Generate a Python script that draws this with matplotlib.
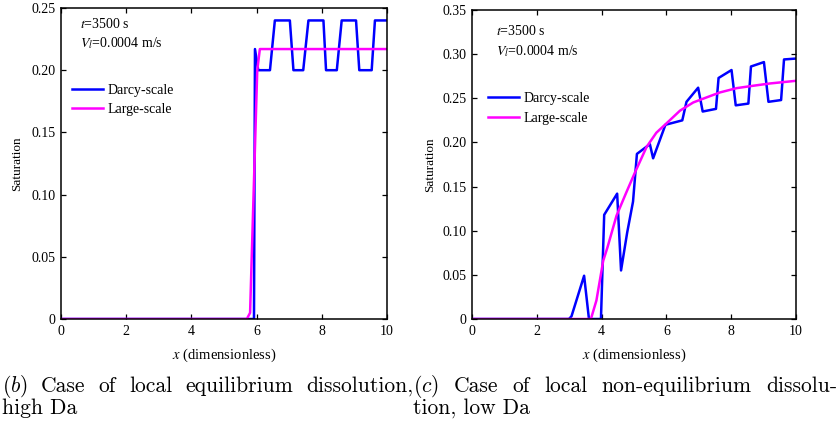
import numpy as np
import matplotlib
matplotlib.use('Agg')
import matplotlib.pyplot as plt

plt.rcParams['font.family'] = ['Liberation Serif', 'DejaVu Serif']
plt.rcParams['mathtext.fontset'] = 'stix'

# Data
xticks = [0, 2, 4, 6, 8, 10]
xtick_labels = ['0', '2', '4', '6', '8', '10']

# (b) local equilibrium, high Da
b_yticks = [0, 0.05, 0.10, 0.15, 0.20, 0.25]
b_ytick_labels = ['0', '0.05', '0.10', '0.15', '0.20', '0.25']
b_darcy_x = [0, 5.92, 5.95, 6.05, 6.41, 6.56, 7.02, 7.13, 7.43, 7.59, 8.05,
             8.13, 8.46, 8.61, 9.05, 9.15, 9.53, 9.63, 10]
b_darcy_y = [0, 0, 0.217, 0.20, 0.20, 0.24, 0.24, 0.20, 0.20, 0.24, 0.24,
             0.20, 0.20, 0.24, 0.24, 0.20, 0.20, 0.24, 0.24]
b_large_x = [0, 5.70, 5.80, 6.02, 6.10, 10]
b_large_y = [0, 0, 0.005, 0.20, 0.217, 0.217]

# (c) local non-equilibrium, low Da
c_yticks = [0, 0.05, 0.10, 0.15, 0.20, 0.25, 0.30, 0.35]
c_ytick_labels = ['0', '0.05', '0.10', '0.15', '0.20', '0.25', '0.30', '0.35']
c_darcy_x = [0, 2.99, 3.07, 3.46, 3.61, 3.98, 4.08, 4.48, 4.60, 4.79, 4.97,
             5.09, 5.49, 5.59, 5.97, 6.49, 6.62, 6.98, 7.12, 7.53, 7.61, 8.01,
             8.14, 8.53, 8.61, 9.01, 9.15, 9.54, 9.63, 10]
c_darcy_y = [0, 0, 0.003, 0.049, 0, 0, 0.118, 0.142, 0.055, 0.098, 0.133,
             0.187, 0.198, 0.182, 0.220, 0.225, 0.246, 0.262, 0.235, 0.238,
             0.273, 0.282, 0.242, 0.244, 0.286, 0.291, 0.246, 0.248, 0.294, 0.295]
c_large_x = [0, 3.67, 3.84, 4.05, 4.18, 4.46, 4.77, 5.03, 5.39, 5.69, 6.0,
             6.42, 6.83, 7.24, 7.65, 8.17, 8.68, 9.20, 10]
c_large_y = [0, 0, 0.021, 0.066, 0.081, 0.117, 0.144, 0.166, 0.195, 0.211,
             0.2215, 0.236, 0.2453, 0.251, 0.2566, 0.2615, 0.2642, 0.2668, 0.2698]

fig = plt.figure(figsize=(8.4, 4.25), dpi=100)
ax_b = fig.add_axes([61/840, 1-319/425, 326/840, 311/425])
ax_c = fig.add_axes([472/840, 1-319/425, 324/840, 309/425])


def style(ax, xd, yd, xl, yl, yticks, ylabels, ylim, ylab_x, leg_anchor, txt_pos):
    ax.plot(xd, yd, color='#0000ff', lw=1.8, label='Darcy-scale')
    ax.plot(xl, yl, color='#ff00ff', lw=1.8, label='Large-scale')
    ax.set_xlim(0, 10)
    ax.set_ylim(*ylim)
    ax.set_xticks(xticks, xtick_labels)
    ax.set_yticks(yticks, ylabels)
    ax.tick_params(direction='in', top=True, right=True, length=3.5,
                   width=0.9, labelsize=10, pad=4)
    for s in ax.spines.values():
        s.set_linewidth(1.1)
    ax.set_xlabel('$x$ (dimensionless)', fontsize=10.5)
    ax.xaxis.set_label_coords(0.5, -0.09)
    ax.set_ylabel('Saturation', fontsize=9.5)
    ax.yaxis.set_label_coords(ylab_x, 0.5)
    ax.legend(loc='upper left', bbox_to_anchor=leg_anchor, frameon=False,
              fontsize=10, handlelength=2.2, handletextpad=0.35,
              borderpad=0, borderaxespad=0, labelspacing=0.47)
    ax.text(txt_pos[0], txt_pos[1], '$t$=3500 s', transform=ax.transAxes,
            fontsize=10, va='center')
    ax.text(txt_pos[0], txt_pos[2], '$V_l$=0.0004 m/s', transform=ax.transAxes,
            fontsize=10, va='center')


style(ax_b, b_darcy_x, b_darcy_y, b_large_x, b_large_y, b_yticks,
      b_ytick_labels, (0, 0.25), -0.117, (0.035, 0.757), (0.058, 0.949, 0.887))
style(ax_c, c_darcy_x, c_darcy_y, c_large_x, c_large_y, c_yticks,
      c_ytick_labels, (0, 0.35), -0.111, (0.05, 0.734), (0.074, 0.932, 0.867))

# captions, first lines justified between pixel limits
renderer = fig.canvas.get_renderer()
cap_kw = dict(fontsize=15.5, family='cmr10', math_fontfamily='cm', va='baseline')


def justified(words, x0, x1, y):
    texts = [fig.text(0, y, w, **cap_kw) for w in words]
    widths = [t.get_window_extent(renderer).width for t in texts]
    gap = (x1 - x0 - sum(widths)) / (len(words) - 1)
    x = x0
    for t, w in zip(texts, widths):
        t.set_x(x / 840)
        x += w + gap


line1_y = 1 - 392/425
line2_y = 1 - 414/425
justified(['$(b)$', 'Case', 'of', 'local', 'equilibrium', 'dissolution,'], 2, 413, line1_y)
fig.text(2/840, line2_y, 'high Da', **cap_kw)
justified(['$(c)$', 'Case', 'of', 'local', 'non-equilibrium', 'dissolu-'], 413, 837, line1_y)
fig.text(413/840, line2_y, 'tion, low Da', **cap_kw)

fig.savefig('out.png', dpi=100)
